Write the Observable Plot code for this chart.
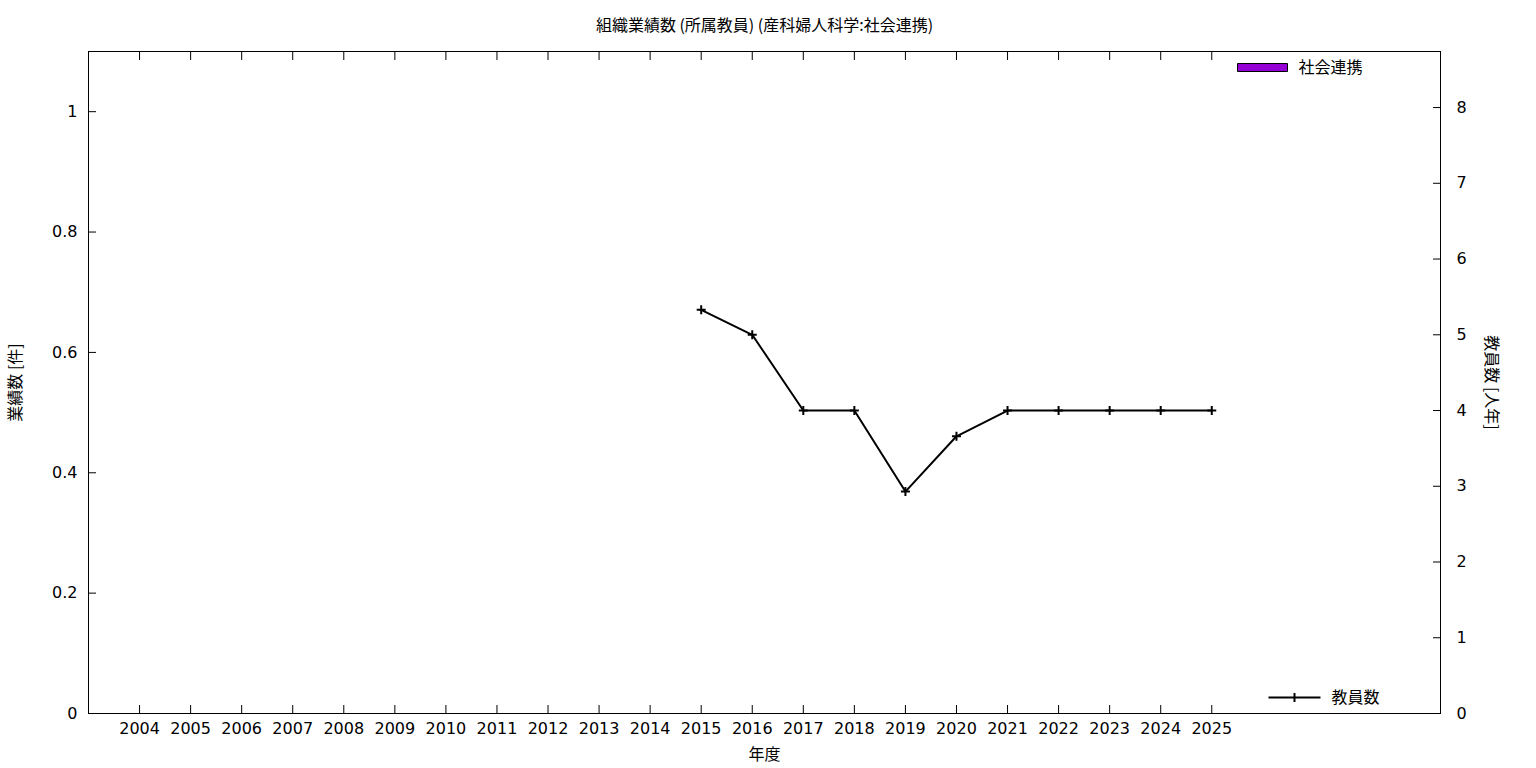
<!DOCTYPE html>
<html>
<head>
<meta charset="utf-8">
<script src="https://cdn.jsdelivr.net/npm/d3@7"></script>
<script src="https://cdn.jsdelivr.net/npm/@observablehq/plot@0.6"></script>
<style>
  html, body { margin: 0; padding: 0; background: #fff; }
  #chart svg { display: block; }
</style>
</head>
<body>
<div id="chart"></div>
<script>
const title = "組織業績数 (所属教員) (産科婦人科学:社会連携)";
const xLabel = "年度";
const yLeftLabel = "業績数 [件]";
const yRightLabel = "教員数 [人年]";
const barSeriesName = "社会連携";
const lineSeriesName = "教員数";

const years = [2004, 2005, 2006, 2007, 2008, 2009, 2010, 2011, 2012, 2013, 2014,
               2015, 2016, 2017, 2018, 2019, 2020, 2021, 2022, 2023, 2024, 2025];
const barValues = years.map(() => 0); // 社会連携: no works recorded
const staffYears = [2015, 2016, 2017, 2018, 2019, 2020, 2021, 2022, 2023, 2024, 2025];
const staffValues = [5.33, 5.0, 4, 4, 2.93, 3.66, 4, 4, 4, 4, 4];

const leftTicks = [0, 0.2, 0.4, 0.6, 0.8, 1];
const rightTicks = [0, 1, 2, 3, 4, 5, 6, 7, 8];

const leftMax = 1.1;
const rightMax = 8.74;
const k = leftMax / rightMax; // right-axis value -> left scale

const barData = years.map((y, i) => ({year: y, value: barValues[i]}));
const staffData = staffYears.map((y, i) => ({year: y, value: staffValues[i] * k}));

const numFont = "DejaVu Sans, Liberation Sans, sans-serif";
const cjkFont = "Noto Sans CJK JP, sans-serif";

const plusSymbol = {
  draw(ctx) { ctx.moveTo(-4.5, 0); ctx.lineTo(4.5, 0); ctx.moveTo(0, -4.5); ctx.lineTo(0, 4.5); }
};
const boxSymbol = {
  draw(ctx) { ctx.rect(-25, -4, 50, 8); }
};
const lineLegendSymbol = {
  draw(ctx) { ctx.moveTo(-26, 0); ctx.lineTo(26, 0); ctx.moveTo(0, -4.5); ctx.lineTo(0, 4.5); }
};

const txt = {fontSize: 16, fontFamily: cjkFont, fill: "black", lineAnchor: "middle"};

const chart = Plot.plot({
  width: 1536,
  height: 768,
  marginLeft: 88,
  marginRight: 96,
  marginTop: 51,
  marginBottom: 55,
  style: {fontFamily: numFont, color: "black", background: "white"},
  x: {type: "linear", domain: [2003, 2029.48]},
  y: {domain: [0, leftMax]},
  marks: [
    Plot.rectY(barData, {x1: d => d.year - 0.45, x2: d => d.year + 0.45, y: "value", fill: "#9400D3"}),
    // axes: tick marks (inward)
    Plot.axisX({anchor: "bottom", ticks: years, tickSize: -8, fill: "none", label: null}),
    Plot.axisX({anchor: "top", ticks: years, tickSize: -8, fill: "none", label: null}),
    Plot.axisY({anchor: "left", ticks: leftTicks, tickSize: -8, fill: "none", label: null}),
    Plot.axisY({anchor: "right", ticks: rightTicks.map(v => v * k), tickSize: -8, fill: "none", label: null}),
    // axes: labels
    Plot.axisX({anchor: "bottom", ticks: years, tickSize: 0, tickPadding: 9, tickFormat: d => String(d), fontSize: 16, label: null}),
    Plot.axisY({anchor: "left", ticks: leftTicks, tickSize: 0, tickPadding: 11, tickFormat: d => String(d), fontSize: 16, label: null}),
    Plot.axisY({anchor: "right", ticks: rightTicks.map(v => v * k), tickSize: 0, tickPadding: 16, tickFormat: d => String(Math.round(d / k)), fontSize: 16, label: null}),
    Plot.frame({stroke: "black", strokeWidth: 1}),
    // staff line
    Plot.line(staffData, {x: "year", y: "value", stroke: "black", strokeWidth: 2}),
    Plot.dot(staffData, {x: "year", y: "value", symbol: plusSymbol, stroke: "black", strokeWidth: 2, fill: "none"}),
    // title and axis labels
    Plot.text([title], {...txt, text: d => d, frameAnchor: "top", dy: -26}),
    Plot.text([xLabel], {...txt, text: d => d, frameAnchor: "bottom", dy: 41}),
    Plot.text([yLeftLabel], {...txt, text: d => d, frameAnchor: "left", textAnchor: "middle", dx: -73, rotate: -90}),
    Plot.text([yRightLabel], {...txt, text: d => d, frameAnchor: "right", textAnchor: "middle", dx: 51, rotate: 90}),
    // legends
    Plot.dot([barSeriesName], {frameAnchor: "top-right", dx: -178, dy: 16, symbol: boxSymbol, fill: "#9400D3", stroke: "black", strokeWidth: 1}),
    Plot.text([barSeriesName], {...txt, text: d => d, frameAnchor: "top-right", dx: -142, dy: 16, textAnchor: "start"}),
    Plot.dot([lineSeriesName], {frameAnchor: "bottom-right", dx: -146, dy: -16, symbol: lineLegendSymbol, stroke: "black", strokeWidth: 2, fill: "none"}),
    Plot.text([lineSeriesName], {...txt, text: d => d, frameAnchor: "bottom-right", dx: -109, dy: -16, textAnchor: "start"})
  ]
});
document.getElementById("chart").appendChild(chart);
</script>
</body>
</html>
